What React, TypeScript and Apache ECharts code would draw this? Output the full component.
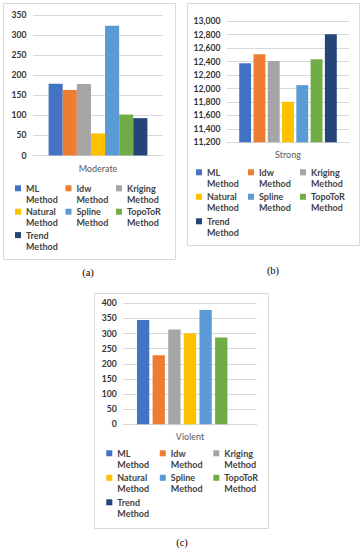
import React, { useEffect, useRef } from 'react';
import * as echarts from 'echarts';

const methods = ['ML Method', 'Idw Method', 'Kriging Method', 'Natural Method', 'Spline Method', 'TopoToR Method', 'Trend Method'];
const colors = ['#4472C4', '#ED7D31', '#A5A5A5', '#FFC000', '#5B9BD5', '#70AD47', '#264478'];
const categoriesA = ['Moderate'];
const categoriesB = ['Strong'];
const categoriesC = ['Violent'];
const moderateValues = [179, 163, 178, 55, 323, 102, 93];
const strongValues = [12375, 12508, 12408, 11802, 12050, 12436, 12808];
const violentValues = [345, 228, 313, 301, 378, 287, 0];
const moderateAxis = { min: 0, max: 350, interval: 50 };
const strongAxis = { min: 11200, max: 13000, interval: 200 };
const violentAxis = { min: 0, max: 400, interval: 50 };
const panelLabels = ['(a)', '(b)', '(c)'];

const FONT = 'Lato, "Noto Sans", sans-serif';
const GRID_COLOR = '#d9d9d9';

export default function App() {
  const ref = useRef<HTMLDivElement>(null);
  useEffect(() => {
    if (!ref.current) return;
    const chart = echarts.init(ref.current, undefined, { renderer: 'svg' });

    const panels = [
      { cats: categoriesA, vals: moderateValues, ax: moderateAxis, grid: { left: 33, top: 15, width: 130, height: 140.5 }, barGap: '0%', catGap: '24%', fmt: (v: number) => String(v) },
      { cats: categoriesB, vals: strongValues, ax: strongAxis, grid: { left: 227, top: 21.3, width: 122, height: 121 }, barGap: '20%', catGap: '20%', fmt: (v: number) => v.toLocaleString('en-US') },
      { cats: categoriesC, vals: violentValues, ax: violentAxis, grid: { left: 123.3, top: 303.3, width: 133.4, height: 121 }, barGap: '27%', catGap: '20.5%', fmt: (v: number) => String(v) },
    ];

    const legendCfg = [
      { left: 15, top: 182.8, gap: 1.4, w: 38.1, width: 155 },
      { left: 196, top: 166.8, gap: 2.5, w: 38.5, width: 160 },
      { left: 106.3, top: 447.8, gap: 2.5, w: 40, width: 165 },
    ];

    const series: any[] = [];
    panels.forEach((p, i) => {
      methods.forEach((m, j) => {
        series.push({
          type: 'bar',
          name: m,
          xAxisIndex: i,
          yAxisIndex: i,
          data: [p.vals[j]],
          itemStyle: { color: colors[j] },
          barGap: p.barGap,
          barCategoryGap: p.catGap,
        });
      });
    });

    const option: any = {
      animation: false,
      backgroundColor: '#ffffff',
      grid: panels.map((p) => ({ ...p.grid, containLabel: false })),
      xAxis: panels.map((p, i) => ({
        type: 'category',
        gridIndex: i,
        data: p.cats,
        axisLine: { show: true, lineStyle: { color: GRID_COLOR, width: 1 } },
        axisTick: { show: false },
        axisLabel: { color: '#595959', fontFamily: FONT, fontSize: 9, margin: 8 },
      })),
      yAxis: panels.map((p, i) => ({
        type: 'value',
        gridIndex: i,
        min: p.ax.min,
        max: p.ax.max,
        interval: p.ax.interval,
        axisLine: { show: false },
        axisTick: { show: false },
        splitLine: { show: true, lineStyle: { color: GRID_COLOR, width: 1 } },
        axisLabel: { color: '#333333', fontFamily: FONT, fontSize: 8.6, fontWeight: 'bold', margin: 6.5, formatter: p.fmt },
      })),
      legend: legendCfg.map((l) => ({
        orient: 'horizontal',
        left: l.left,
        top: l.top,
        width: l.width,
        padding: 0,
        itemGap: l.gap,
        itemWidth: 6,
        itemHeight: 22,
        icon: 'path://M0 0 M0 22 M0 2.5H6V8.5H0Z',
        selectedMode: false,
        data: methods,
        formatter: (name: string) => name.replace(' ', '\n'),
        textStyle: { color: '#444444', fontFamily: FONT, fontSize: 9, fontWeight: 'bold', lineHeight: 11, width: l.w },
      })),
      graphic: [
        { type: 'rect', shape: { x: 3.5, y: 3.5, width: 172, height: 256 }, style: { fill: 'none', stroke: GRID_COLOR, lineWidth: 1 }, silent: true },
        { type: 'rect', shape: { x: 187.5, y: 3.5, width: 172, height: 242 }, style: { fill: 'none', stroke: GRID_COLOR, lineWidth: 1 }, silent: true },
        { type: 'rect', shape: { x: 94.5, y: 293.5, width: 174, height: 235 }, style: { fill: 'none', stroke: GRID_COLOR, lineWidth: 1 }, silent: true },
        { type: 'text', x: 88, y: 272, style: { text: panelLabels[0], fill: '#000', font: '10.5px "Liberation Serif", serif', textAlign: 'center', textVerticalAlign: 'middle' } },
        { type: 'text', x: 273, y: 270, style: { text: panelLabels[1], fill: '#000', font: '10.5px "Liberation Serif", serif', textAlign: 'center', textVerticalAlign: 'middle' } },
        { type: 'text', x: 182, y: 542, style: { text: panelLabels[2], fill: '#000', font: '10.5px "Liberation Serif", serif', textAlign: 'center', textVerticalAlign: 'middle' } },
      ],
      series,
    };
    chart.setOption(option);
    return () => chart.dispose();
  }, []);
  return <div ref={ref} style={{ position: 'absolute', left: 0, top: 0, width: 364, height: 550 }} />;
}
